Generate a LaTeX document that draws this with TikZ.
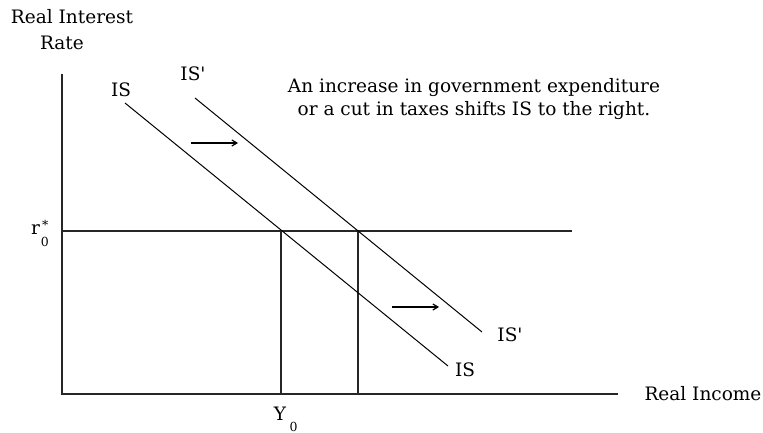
\documentclass[tikz,border=0pt]{standalone}
\usepackage{fontspec}
\newfontfamily\plainfont{DejaVu Serif}
\usetikzlibrary{arrows.meta}
\newcommand{\smallfnt}{\fontsize{12.5}{14}\selectfont}
\begin{document}
\begin{tikzpicture}[x=1pt,y=-1pt,
  lbl/.style={inner sep=0pt,font=\plainfont\fontsize{18.5}{23}\selectfont},
  sub/.style={inner sep=0pt,font=\plainfont\fontsize{12.5}{14}\selectfont},
  axis/.style={line width=1.5pt,draw=black!85},
  curve/.style={line width=1pt},
  movearrow/.style={line width=1.2pt,-{Straight Barb[length=5pt,width=6pt]}}]
\useasboundingbox (0,0) rectangle (763,433);
% axes
\coordinate (O) at (62,394);
\coordinate (ytop) at (62,74);
\coordinate (xend) at (618,394);
\draw[axis] (ytop) -- (O) -- (xend);
% r0 line
\coordinate (rL) at (62,231);
\coordinate (rR) at (572,231);
\draw[axis] (rL) -- (rR);
% verticals
\coordinate (E1) at (281,231);
\coordinate (E1b) at (281,394);
\coordinate (E2) at (358,231);
\coordinate (E2b) at (358,394);
\draw[axis] (E1) -- (E1b);
\draw[axis] (E2) -- (E2b);
% IS curves
\coordinate (IS1) at (125,103);
\coordinate (IS2) at (448,366);
\coordinate (ISp1) at (195,98);
\coordinate (ISp2) at (482,332);
\draw[curve] (IS1) -- (IS2);
\draw[curve] (ISp1) -- (ISp2);
% shift arrows
\coordinate (a1) at (191,143);
\coordinate (a2) at (238,143);
\coordinate (b1) at (392,307);
\coordinate (b2) at (439,307);
\draw[movearrow] (a1) -- (a2);
\draw[movearrow] (b1) -- (b2);
% labels
\node[lbl] (ylab1) at (72,17) {Real Interest};
\node[lbl] (ylab2) at (62,43) {Rate};
\node[lbl] (xlab) at (703,394) {Real Income};
\node[lbl] (ISt) at (121,90) {IS};
\node[lbl] (ISpt) at (193,74) {IS'};
\node[lbl] (ISb) at (465,370) {IS};
\node[lbl] (ISpb) at (510,335) {IS'};
\node[lbl,anchor=base west] (r) at (31,234) {r\hspace{2pt}\raisebox{5pt}{\smallfnt *}\hspace{-7.5pt}\raisebox{-12.5pt}{\smallfnt 0}};
\node[lbl] (Y) at (280,414) {Y};
\node[sub] (Ysub) at (293.5,427) {0};
\node[lbl,align=center] (note) at (474,99) {An increase in government expenditure\\ or a cut in taxes shifts IS to the right.};
\end{tikzpicture}
\end{document}
